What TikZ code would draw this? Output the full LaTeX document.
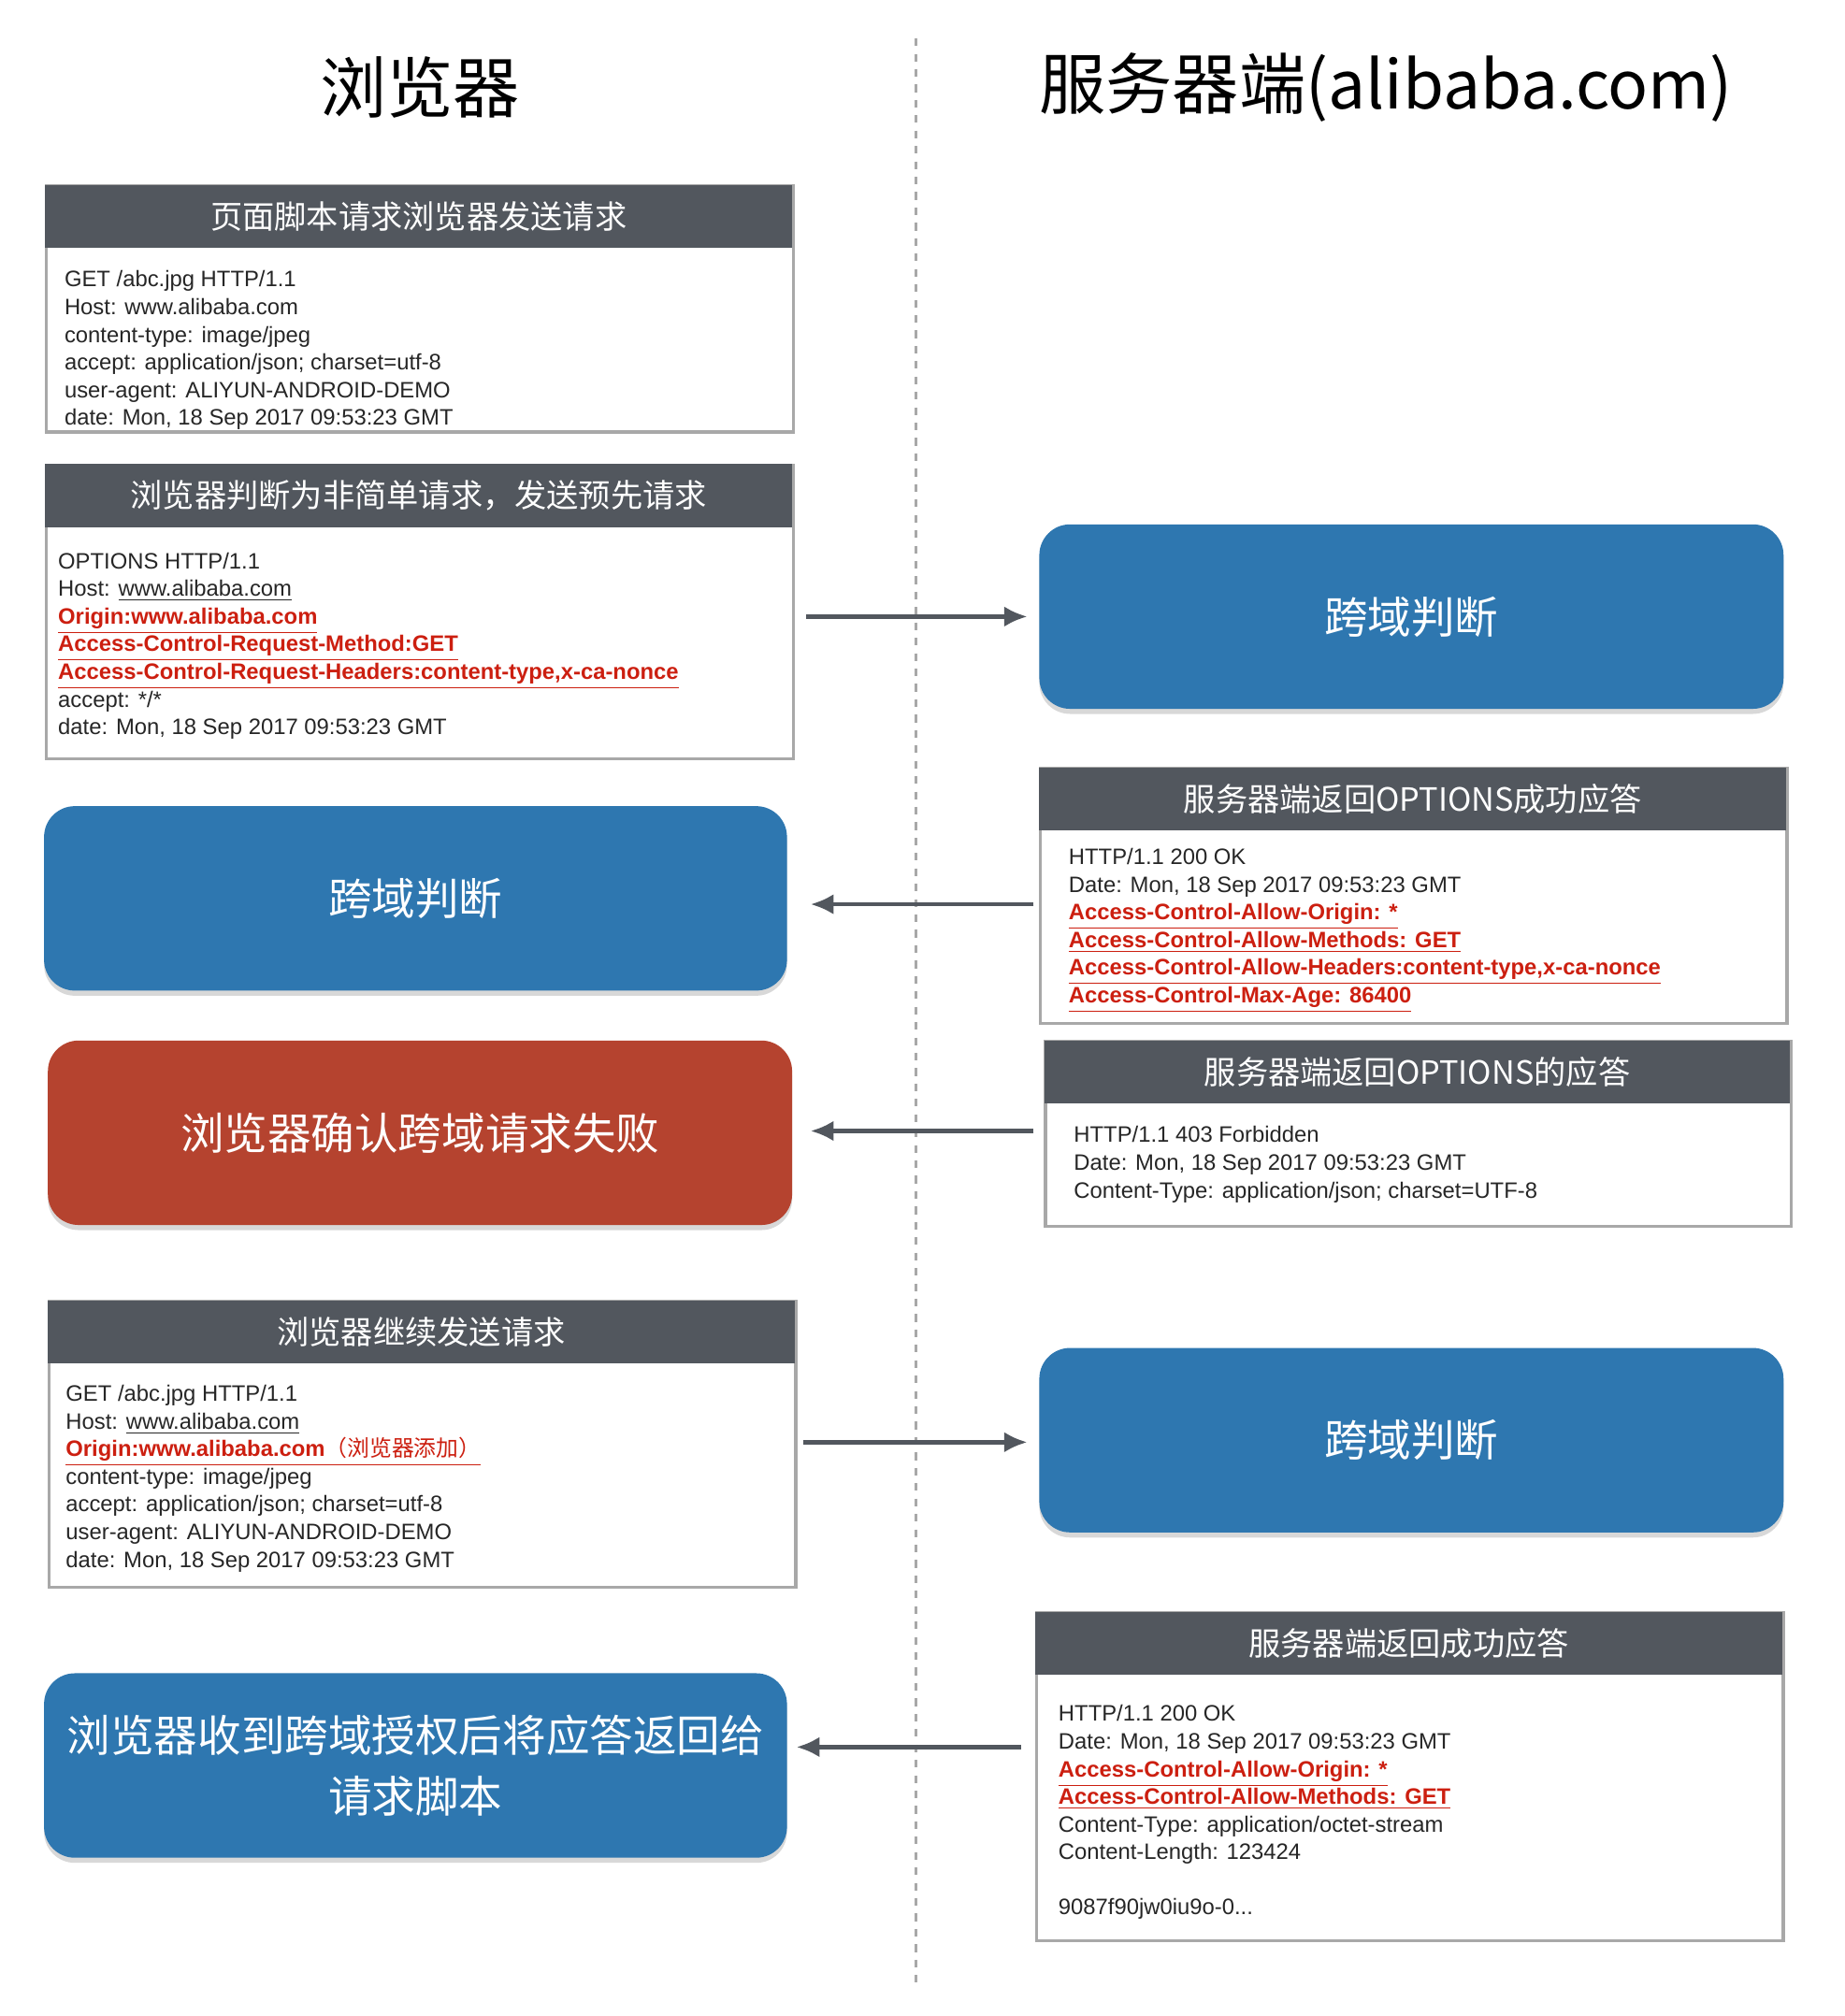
\documentclass[tikz,border=0pt]{standalone}
\usepackage{fontspec}
\setmainfont{Liberation Sans}
\newfontfamily\cjk{Noto Sans CJK SC}
\usetikzlibrary{arrows.meta,shadows}
\definecolor{hdr}{HTML}{52575E}
\definecolor{bluebx}{HTML}{2E77B0}
\definecolor{redbx}{HTML}{B5432F}
\definecolor{redtxt}{HTML}{CC1F10}
\definecolor{bord}{HTML}{A8A8A8}
\newcommand{\rl}[1]{\textcolor{redtxt}{\underline{\textbf{#1}}}}
\tikzset{
  box/.style={draw=bord,line width=1.2pt,fill=white,anchor=north west,inner sep=0pt},
  hdrbox/.style={fill=hdr,anchor=north west,inner sep=0pt,text=white,font=\cjk\fontsize{12.5}{14}\selectfont},
  body/.style={anchor=north west,inner sep=0pt,align=left,font=\fontsize{8.7}{10.8}\selectfont,text=black!85},
  bluebox/.style={fill=bluebx,rounded corners=12pt,anchor=north west,inner sep=0pt,text=white,font=\cjk\fontsize{17}{24}\selectfont,align=center,drop shadow={shadow xshift=0pt,shadow yshift=-2pt,opacity=0.3}},
  arr/.style={draw=hdr,line width=1.6pt,-{Latex[length=9pt,width=8pt]}},
}
\begin{document}
\begin{tikzpicture}[x=0.5pt,y=-0.5pt]
\useasboundingbox (0,0) rectangle (1440,1574);
\fill[white] (0,0) rectangle (1440,1574);
\node[font=\cjk\fontsize{26}{30}\selectfont] (t1) at (328,68) {浏览器};
\node[font=\cjk\fontsize{26}{30}\selectfont] (t2) at (1082,68) {服务器端(alibaba.com)};
\coordinate (d1) at (715,30); \coordinate (d2) at (715,1550);
\draw[bord,line width=1.2pt,dash pattern=on 3pt off 3pt] (d1) -- (d2);
\node[box,minimum width=291.5pt,minimum height=96pt] (b1) at (35,144) {};
\node[hdrbox,minimum width=291.5pt,minimum height=24.5pt] (h1) at (35,144) {页面脚本请求浏览器发送请求};
\node[body] (x1) at (50,211) {GET /abc.jpg HTTP/1.1\\Host: www.alibaba.com\\content-type: image/jpeg\\accept: application/json; charset=utf-8\\user-agent: ALIYUN-ANDROID-DEMO\\date: Mon, 18 Sep 2017 09:53:23 GMT};
\node[box,minimum width=291.5pt,minimum height=114.5pt] (b2) at (35,362) {};
\node[hdrbox,minimum width=291.5pt,minimum height=24.5pt] (h2) at (35,362) {浏览器判断为非简单请求，发送预先请求};
\node[body] (x2) at (45,431) {OPTIONS HTTP/1.1\\Host: \underline{www.alibaba.com}\\\rl{Origin:www.alibaba.com}\\\rl{Access-Control-Request-Method:GET}\\\rl{Access-Control-Request-Headers:content-type,x-ca-nonce}\\accept: */*\\date: Mon, 18 Sep 2017 09:53:23 GMT};
\node[bluebox,minimum width=290.5pt,minimum height=72pt] (r1) at (811,409) {跨域判断};
\draw[arr] ([xshift=4.5pt]b2.east |- r1.west) -- ([xshift=-4.5pt]r1.west);
\node[box,minimum width=291.5pt,minimum height=99.5pt] (b3) at (811,599) {};
\node[hdrbox,minimum width=291.5pt,minimum height=24.5pt] (h3) at (811,599) {服务器端返回OPTIONS成功应答};
\node[body] (x3) at (834,662) {HTTP/1.1 200 OK\\Date: Mon, 18 Sep 2017 09:53:23 GMT\\\rl{Access-Control-Allow-Origin: *}\\\rl{Access-Control-Allow-Methods: GET}\\\rl{Access-Control-Allow-Headers:content-type,x-ca-nonce}\\\rl{Access-Control-Max-Age: 86400}};
\node[bluebox,minimum width=290pt,minimum height=72pt] (l1) at (34,629) {跨域判断};
\coordinate (a2s) at (807,706);
\draw[arr] (a2s) -- ([xshift=9pt]l1.east |- a2s);
\node[bluebox,fill=redbx,minimum width=290.5pt,minimum height=72pt] (l2) at (37,812) {浏览器确认跨域请求失败};
\node[box,minimum width=291pt,minimum height=72pt] (b4) at (815,812) {};
\node[hdrbox,minimum width=291pt,minimum height=24.5pt] (h4) at (815,812) {服务器端返回OPTIONS的应答};
\node[body] (x4) at (838,879) {HTTP/1.1 403 Forbidden\\Date: Mon, 18 Sep 2017 09:53:23 GMT\\Content-Type: application/json; charset=UTF-8};
\coordinate (a3s) at (807,883);
\draw[arr] (a3s) -- ([xshift=7pt]l2.east |- a3s);
\node[box,minimum width=291.5pt,minimum height=111.5pt] (b5) at (37,1015) {};
\node[hdrbox,minimum width=291.5pt,minimum height=24.5pt] (h5) at (37,1015) {浏览器继续发送请求};
\node[body] (x5) at (51,1081) {GET /abc.jpg HTTP/1.1\\Host: \underline{www.alibaba.com}\\\textcolor{redtxt}{\underline{\textbf{Origin:www.alibaba.com}{\cjk（浏览器添加）}}}\\content-type: image/jpeg\\accept: application/json; charset=utf-8\\user-agent: ALIYUN-ANDROID-DEMO\\date: Mon, 18 Sep 2017 09:53:23 GMT};
\node[bluebox,minimum width=290.5pt,minimum height=72pt] (r2) at (811,1052) {跨域判断};
\coordinate (a4s) at (627,1126);
\draw[arr] (a4s) -- ([xshift=-4.5pt]r2.west |- a4s);
\node[box,minimum width=291.5pt,minimum height=128pt] (b6) at (808,1258) {};
\node[hdrbox,minimum width=291.5pt,minimum height=24.5pt] (h6) at (808,1258) {服务器端返回成功应答};
\node[body] (x6) at (826,1331) {HTTP/1.1 200 OK\\Date: Mon, 18 Sep 2017 09:53:23 GMT\\\rl{Access-Control-Allow-Origin: *}\\\rl{Access-Control-Allow-Methods: GET}\\Content-Type: application/octet-stream\\Content-Length: 123424\\[10.5pt]9087f90jw0iu9o-0...};
\node[bluebox,minimum width=290pt,minimum height=72pt] (l3) at (34,1306) {浏览器收到跨域授权后将应答返回给\\请求脚本};
\coordinate (a5s) at (797,1364);
\draw[arr] (a5s) -- ([xshift=3.5pt]l3.east |- a5s);
\end{tikzpicture}
\end{document}
